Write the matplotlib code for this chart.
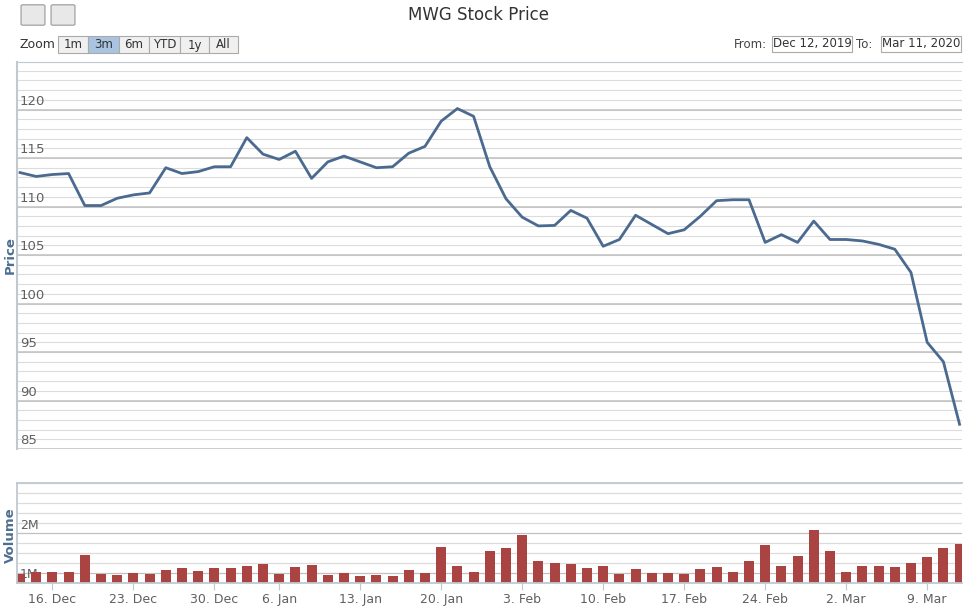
import matplotlib
matplotlib.use("Agg")
import matplotlib.pyplot as plt
from matplotlib.patches import Rectangle, FancyBboxPatch
import numpy as np

# trading days Dec 12, 2019 - Mar 11, 2020 (ordinal axis)
price = [113.5, 113.1, 113.3, 113.4, 110.1, 110.1, 110.85, 111.2, 111.4, 114.0,
         113.4, 113.6, 114.1, 114.1, 117.1, 115.4, 114.85, 115.7, 112.9, 114.6,
         115.2, 114.6, 114.0, 114.1, 115.5, 116.2, 118.8, 120.1, 119.3, 114.1,
         110.8, 108.9, 108.0, 108.05, 109.6, 108.8, 105.9, 106.6, 109.1, 108.15,
         107.2, 107.6, 109.0, 110.6, 110.7, 110.7, 106.3, 107.1, 106.3, 108.5,
         106.6, 106.6, 106.45, 106.1, 105.6, 103.2, 96.0, 94.0, 87.55]
volume_m = [0.98, 1.03, 1.03, 1.03, 1.46, 0.98, 0.96, 1.01, 0.98, 1.08,
            1.13, 1.06, 1.13, 1.13, 1.18, 1.23, 0.98, 1.16, 1.21, 0.96,
            1.01, 0.93, 0.96, 0.93, 1.08, 1.01, 1.66, 1.18, 1.03, 1.56,
            1.63, 1.96, 1.31, 1.26, 1.23, 1.13, 1.18, 0.98, 1.11, 1.01,
            1.01, 0.98, 1.11, 1.16, 1.03, 1.31, 1.71, 1.18, 1.43, 2.08,
            1.56, 1.03, 1.18, 1.18, 1.16, 1.26, 1.41, 1.63, 1.73]
tick_idx = [2, 7, 12, 16, 21, 26, 31, 36, 41, 46, 51, 56]
tick_labels = ["16. Dec", "23. Dec", "30. Dec", "6. Jan", "13. Jan", "20. Jan",
               "3. Feb", "10. Feb", "17. Feb", "24. Feb", "2. Mar", "9. Mar"]

x = np.arange(len(price))
grid_c = "#dcdcdc"
major_c = "#c0c0c0"
txt_c = "#606060"
title_c = "#4d6e8f"

fig = plt.figure(figsize=(9.66, 6.09), dpi=100)

# price panel
ax = fig.add_axes([17/966, 1-449/609, 945/966, 387/609])
ax.plot(x, price, color="#4a6a8f", lw=2)
ax.set_xlim(-0.185, 58.15)
ax.set_ylim(85, 124.9)
for v in range(86, 125):
    ax.axhline(v, color=grid_c, lw=0.8, zorder=0)
for v in range(85, 125, 5):
    ax.axhline(v, color=major_c, lw=1.1, zorder=0)
    if v <= 120:
        ax.text(0.0, v + 0.2, str(v), color=txt_c, fontsize=9.5, va="bottom", ha="left")
ax.set_xticks([])
ax.set_yticks([])
for s in ["right", "bottom"]:
    ax.spines[s].set_visible(False)
ax.spines["left"].set_color("#c0c8d0")
ax.spines["top"].set_color("#c0c8d0")
ax.spines["left"].set_linewidth(1.5)
fig.text(0.004, 1-255/609, "Price", rotation=90, color=title_c, fontsize=9.5,
         fontweight="bold", va="center", ha="left")

# volume panel
av = fig.add_axes([17/966, 1-583/609, 945/966, 100/609])
av.bar(x, volume_m, width=0.62, color="#a94442", zorder=2)
av.set_xlim(-0.185, 58.15)
av.set_ylim(0.75, 3.25)
for v in np.arange(1.0, 3.3, 0.25):
    av.axhline(v, color=major_c if v in (1.0, 2.0) else grid_c, lw=0.9, zorder=0)
av.text(0.0, 2.02, "2M", color=txt_c, fontsize=9, va="bottom", ha="left")
av.text(0.0, 0.8, "1M", color=txt_c, fontsize=9, va="bottom", ha="left", zorder=1)
av.set_yticks([])
av.set_xticks(tick_idx)
av.set_xticklabels(tick_labels, fontsize=9, color=txt_c)
av.tick_params(axis="x", length=5, color="#c0c8d0", pad=2)
av.spines["right"].set_visible(False)
for s in ["left", "top", "bottom"]:
    av.spines[s].set_color("#c0c8d0")
    av.spines[s].set_linewidth(1.3)
fig.text(0.004, 1-535/609, "Volume", rotation=90, color=title_c, fontsize=9.5,
         fontweight="bold", va="center", ha="left")

# toolbar
fig.text(478/966, 1-15/609, "MWG Stock Price", fontsize=12, color="#333333",
         ha="center", va="center")
for bx in (23, 53):
    fig.patches.append(FancyBboxPatch((bx/966, 1-24/609), 20/966, 18/609,
                       boxstyle="round,pad=0.002", transform=fig.transFigure,
                       fc="#e8e8e8", ec="#aaaaaa", lw=1))
fig.text(20/966, 1-45/609, "Zoom", fontsize=9, color="#333333", va="center")
btns = ["1m", "3m", "6m", "YTD", "1y", "All"]
bxs = [58, 88, 119, 149, 180, 209, 238]
for i, b in enumerate(btns):
    fig.patches.append(Rectangle((bxs[i]/966, 1-53/609), (bxs[i+1]-bxs[i])/966, 17/609,
                       transform=fig.transFigure,
                       fc="#a8c4e0" if b == "3m" else "#f0f0f0", ec="#aaaaaa", lw=0.8))
    fig.text((bxs[i]+bxs[i+1])/2/966, 1-45/609, b, fontsize=8.5, color="#333333",
             ha="center", va="center")
fig.text(734/966, 1-44/609, "From:", fontsize=8.5, color="#444444", va="center")
fig.patches.append(Rectangle((772/966, 1-52/609), 80/966, 16/609, transform=fig.transFigure,
                   fc="white", ec="#aaaaaa", lw=0.8))
fig.text(812/966, 1-44/609, "Dec 12, 2019", fontsize=8.5, color="#333333", va="center", ha="center")
fig.text(856/966, 1-44/609, "To:", fontsize=8.5, color="#444444", va="center")
fig.patches.append(Rectangle((881/966, 1-52/609), 80/966, 16/609, transform=fig.transFigure,
                   fc="white", ec="#aaaaaa", lw=0.8))
fig.text(921/966, 1-44/609, "Mar 11, 2020", fontsize=8.5, color="#333333", va="center", ha="center")

fig.savefig("out.png", dpi=100)
